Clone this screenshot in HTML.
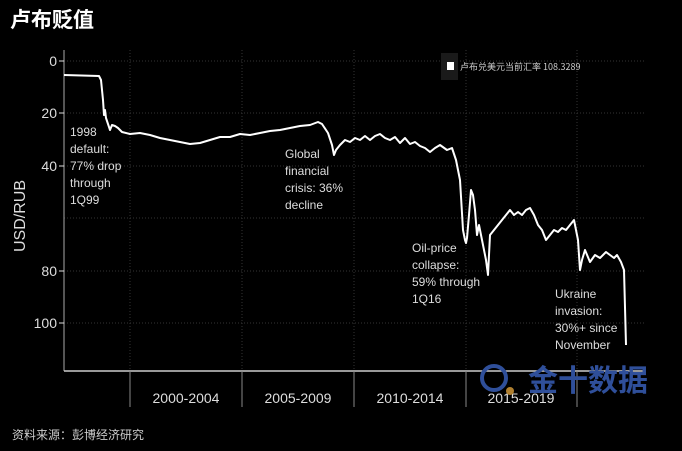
<!DOCTYPE html>
<html><head><meta charset="utf-8"><style>
body{margin:0;background:#000;width:682px;height:451px;overflow:hidden;font-family:"Liberation Sans","Noto Sans CJK SC",sans-serif;}
</style></head><body>
<svg width="682" height="451" xmlns="http://www.w3.org/2000/svg" style="position:absolute;left:0;top:0">
<text x="10" y="27" fill="#fff" font-size="21" font-weight="bold" font-family="Noto Sans CJK SC, sans-serif">卢布贬值</text>
<g stroke="#333" stroke-dasharray="1,2" stroke-width="1">
<line x1="64" y1="61" x2="645" y2="61"/><line x1="64" y1="113" x2="645" y2="113"/><line x1="64" y1="166" x2="645" y2="166"/><line x1="64" y1="218" x2="645" y2="218"/><line x1="64" y1="271" x2="645" y2="271"/><line x1="64" y1="323" x2="645" y2="323"/>
<line x1="130" y1="50" x2="130" y2="371"/><line x1="242" y1="50" x2="242" y2="371"/><line x1="354" y1="50" x2="354" y2="371"/><line x1="466" y1="50" x2="466" y2="371"/><line x1="577" y1="50" x2="577" y2="371"/>
</g>
<line x1="64" y1="50" x2="64" y2="371" stroke="#aaa"/>
<line x1="64" y1="371" x2="645" y2="371" stroke="#ccc" stroke-width="1.5"/>
<g stroke="#888"><line x1="130" y1="371" x2="130" y2="407"/><line x1="242" y1="371" x2="242" y2="407"/><line x1="354" y1="371" x2="354" y2="407"/><line x1="466" y1="371" x2="466" y2="407"/><line x1="577" y1="371" x2="577" y2="407"/></g>
<g fill="#ddd" font-size="14" text-anchor="end">
<text x="57" y="66">0</text><text x="57" y="118">20</text><text x="57" y="171">40</text><text x="57" y="276">80</text><text x="57" y="328">100</text></g>
<g stroke="#ddd"><line x1="59" y1="61" x2="64" y2="61"/><line x1="59" y1="113" x2="64" y2="113"/><line x1="59" y1="166" x2="64" y2="166"/><line x1="59" y1="271" x2="64" y2="271"/><line x1="59" y1="323" x2="64" y2="323"/></g>
<text x="25" y="216" fill="#ddd" font-size="16" transform="rotate(-90 25 216)" text-anchor="middle">USD/RUB</text>
<g fill="#ddd" font-size="14" text-anchor="middle">
<text x="186" y="403">2000-2004</text><text x="298" y="403">2005-2009</text><text x="410" y="403">2010-2014</text><text x="521" y="403">2015-2019</text></g>
<rect x="441" y="53" width="17" height="27" fill="#1a1a1a"/>
<rect x="447" y="62" width="7" height="8" fill="#fff"/>
<text x="460" y="70" fill="#ccc" font-size="9" font-family="Noto Sans CJK SC, sans-serif">卢布兑美元当前汇率 108.3289</text>
<polyline fill="none" stroke="#fff" stroke-width="2" stroke-linejoin="round" points="64,75 99,76 101,80 102,90 103,100 104,115 105,110 106,118 108,124 110,130 112,125 115,126 118,128 122,132 130,134 140,133 150,135 160,138 170,140 180,142 190,144 200,143 210,140 220,137 230,137 240,134 250,135 260,133 270,131 280,130 290,128 300,126 310,125 318,122 322,124 328,133 332,145 334,155 336,150 340,145 345,140 350,142 355,138 360,140 365,136 370,140 375,136 380,134 385,138 390,140 395,137 400,143 405,138 410,144 415,142 420,146 425,148 430,152 435,148 440,145 447,150 452,148 456,160 460,180 463,230 465,240 466,243 467,238 469,215 471,190 473,195 475,210 477,235 479,225 482,240 486,260 488,275 490,235 494,230 498,225 502,220 506,215 510,210 514,215 518,212 522,215 526,210 530,208 534,215 538,225 542,230 546,240 550,235 554,230 558,232 562,228 566,230 570,225 574,220 578,240 580,270 582,260 585,250 590,262 595,255 600,258 606,252 610,255 614,258 617,255 621,262 624,270 626,345"/>
<g fill="#ddd" font-size="12">
<text x="70" y="136">1998</text><text x="70" y="153">default:</text><text x="70" y="170">77% drop</text><text x="70" y="187">through</text><text x="70" y="204">1Q99</text>
<text x="285" y="158">Global</text><text x="285" y="175">financial</text><text x="285" y="192">crisis: 36%</text><text x="285" y="209">decline</text>
<text x="412" y="252">Oil-price</text><text x="412" y="269">collapse:</text><text x="412" y="286">59% through</text><text x="412" y="303">1Q16</text>
<text x="555" y="298">Ukraine</text><text x="555" y="315">invasion:</text><text x="555" y="332">30%+ since</text><text x="555" y="349">November</text>
</g>
<circle cx="494" cy="378" r="12" fill="none" stroke="#2f4f9a" stroke-width="4"/>
<circle cx="510" cy="391" r="4" fill="#b08030"/>
<text x="528" y="391" fill="#2f4f9a" font-size="30" font-weight="bold" font-family="Noto Sans CJK SC, sans-serif">金十数据</text>
<text x="12" y="439" fill="#ccc" font-size="12" font-family="Noto Sans CJK SC, sans-serif">资料来源：彭博经济研究</text>
</svg>
</body></html>
